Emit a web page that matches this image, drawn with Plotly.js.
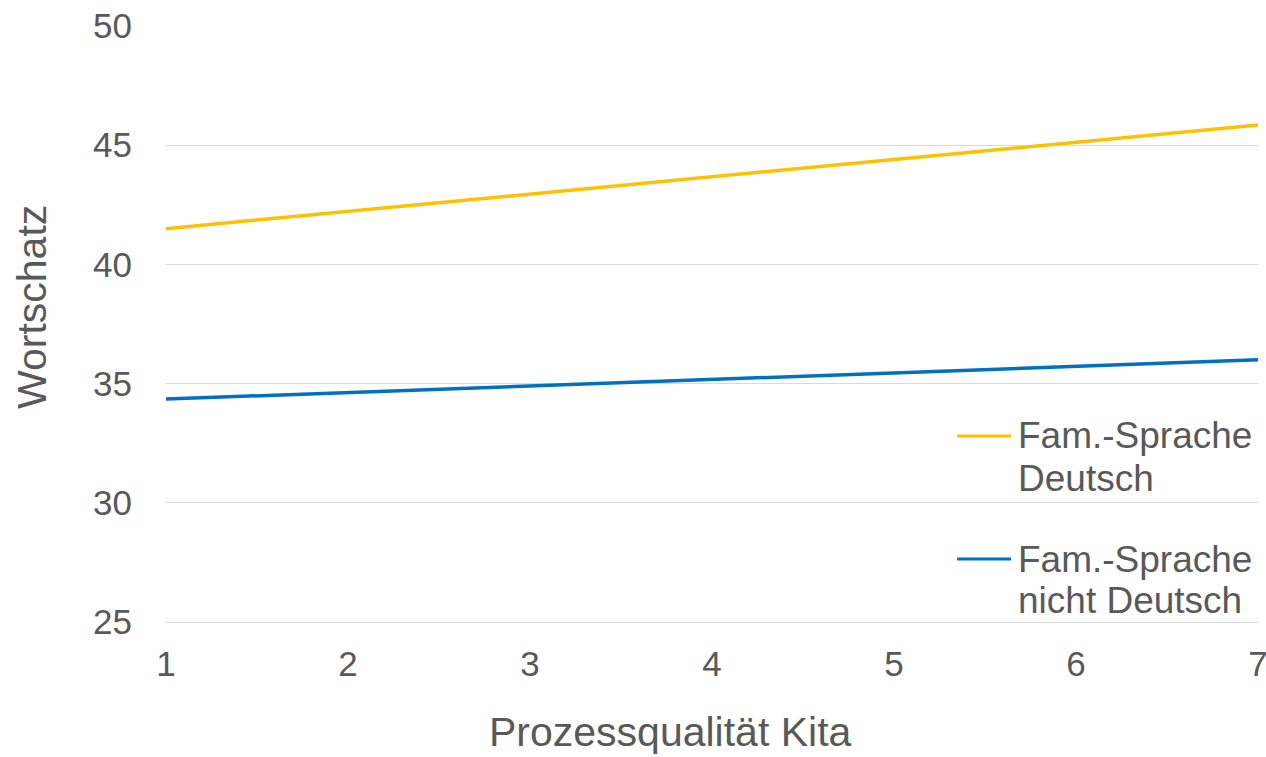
<!DOCTYPE html>
<html>
<head>
<meta charset="utf-8">
<script src="https://cdn.plot.ly/plotly-3.0.1.min.js"></script>
<style>
  html, body { margin: 0; padding: 0; background: #ffffff; }
  #chart { width: 1266px; height: 757px; }
</style>
</head>
<body>
<div id="chart"></div>
<script>
// Process quality of the daycare (x) vs. vocabulary score (y), by family language
const qualityX = [1, 7];
const deutschY = [41.5, 45.85];
const nichtDeutschY = [34.35, 36.0];
const seriesNames = ['Fam.-Sprache Deutsch', 'Fam.-Sprache nicht Deutsch'];
const legendLines = [['Fam.-Sprache', 'Deutsch'], ['Fam.-Sprache', 'nicht Deutsch']];
const seriesColors = ['#FFC000', '#0070C0'];
const yTicks = [25, 30, 35, 40, 45, 50];
const xTicks = [1, 2, 3, 4, 5, 6, 7];
const xTitle = 'Prozessqualität Kita';
const yTitle = 'Wortschatz';

const textColor = '#595959';
const gridColor = '#D9D9D9';
const fontFamily = 'Liberation Sans, Arial, sans-serif';

const traces = [
  {
    x: qualityX, y: deutschY, name: seriesNames[0],
    type: 'scatter', mode: 'lines',
    line: { color: seriesColors[0], width: 3.5 }
  },
  {
    x: qualityX, y: nichtDeutschY, name: seriesNames[1],
    type: 'scatter', mode: 'lines',
    line: { color: seriesColors[1], width: 3.5 }
  }
];

// Legend drawn at the right, inside the plot: a short line sample
// next to a two-line label, the sample aligned with the first line.
const legendSampleX = [0.7244, 0.7738];
const legendTextX = 0.7785;
const legendRowY = [[0.3121, 0.2408], [0.1057, 0.0369]];

const shapes = seriesColors.map((c, i) => ({
  type: 'line', xref: 'paper', yref: 'paper',
  x0: legendSampleX[0], x1: legendSampleX[1],
  y0: legendRowY[i][0], y1: legendRowY[i][0],
  line: { color: c, width: 3 }
}));

const annotations = [];
legendLines.forEach((lines, i) => {
  lines.forEach((txt, j) => {
    annotations.push({
      xref: 'paper', yref: 'paper',
      x: legendTextX, y: legendRowY[i][j],
      xanchor: 'left', yanchor: 'middle',
      text: txt, showarrow: false,
      font: { family: fontFamily, size: 37, color: textColor }
    });
  });
});

// Axis titles
annotations.push({
  xref: 'paper', yref: 'paper', x: 0.462, y: -0.1854,
  xanchor: 'center', yanchor: 'middle', showarrow: false,
  text: xTitle, font: { family: fontFamily, size: 41, color: textColor }
});
annotations.push({
  xref: 'paper', yref: 'paper', x: -0.1227, y: 0.5285,
  xanchor: 'center', yanchor: 'middle', showarrow: false, textangle: -90,
  text: yTitle, font: { family: fontFamily, size: 41, color: textColor }
});

const layout = {
  width: 1266, height: 757,
  paper_bgcolor: '#ffffff', plot_bgcolor: '#ffffff',
  margin: { l: 166, r: 8, t: 26, b: 135 },
  font: { family: fontFamily, color: textColor, size: 35 },
  showlegend: false,
  shapes: shapes,
  annotations: annotations,
  xaxis: {
    range: [1, 7],
    tickvals: xTicks,
    ticktext: xTicks.map(String),
    showgrid: false, zeroline: false,
    showline: true, linecolor: gridColor, linewidth: 1,
    ticks: 'outside', ticklen: 11, tickcolor: 'rgba(0,0,0,0)',
    ticklabeloverflow: 'allow',
    tickfont: { family: fontFamily, size: 35, color: textColor }
  },
  yaxis: {
    range: [25, 50],
    tickvals: yTicks,
    ticktext: yTicks.map(String),
    showgrid: true, gridcolor: gridColor, gridwidth: 1,
    zeroline: false, showline: false,
    ticks: 'outside', ticklen: 26, tickcolor: 'rgba(0,0,0,0)',
    ticklabeloverflow: 'allow',
    tickfont: { family: fontFamily, size: 35, color: textColor }
  }
};

Plotly.newPlot('chart', traces, layout, { displayModeBar: false, staticPlot: true });
</script>
</body>
</html>
